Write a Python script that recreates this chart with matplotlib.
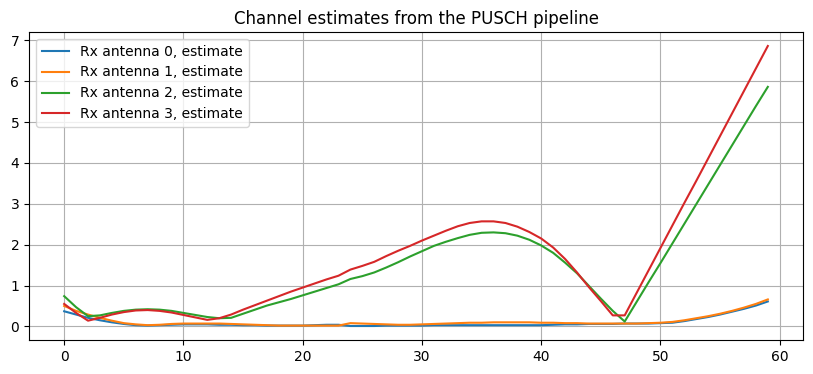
import matplotlib
matplotlib.use("Agg")
import matplotlib.pyplot as plt

# Channel estimate magnitudes per subcarrier index
subcarriers = list(range(60))

ant0 = [0.37, 0.29, 0.21, 0.15, 0.10, 0.06, 0.03, 0.02, 0.03, 0.04,
        0.05, 0.05, 0.05, 0.04, 0.04, 0.03, 0.03, 0.02, 0.02, 0.02,
        0.02, 0.03, 0.04, 0.04, 0.01, 0.01, 0.01, 0.02, 0.02, 0.02,
        0.02, 0.03, 0.03, 0.03, 0.03, 0.03, 0.03, 0.03, 0.03, 0.03,
        0.03, 0.04, 0.05, 0.05, 0.06, 0.06, 0.06, 0.07, 0.07, 0.07,
        0.08, 0.09, 0.13, 0.18, 0.23, 0.29, 0.36, 0.43, 0.51, 0.61]

ant1 = [0.50, 0.38, 0.29, 0.21, 0.14, 0.08, 0.05, 0.03, 0.04, 0.06,
        0.07, 0.07, 0.07, 0.07, 0.06, 0.05, 0.04, 0.03, 0.02, 0.02,
        0.02, 0.02, 0.02, 0.02, 0.08, 0.07, 0.06, 0.05, 0.04, 0.04,
        0.05, 0.06, 0.07, 0.08, 0.09, 0.09, 0.10, 0.10, 0.10, 0.10,
        0.09, 0.09, 0.08, 0.08, 0.07, 0.07, 0.07, 0.07, 0.07, 0.08,
        0.09, 0.11, 0.15, 0.20, 0.25, 0.31, 0.38, 0.46, 0.55, 0.66]

ant2 = [0.74, 0.47, 0.25, 0.27, 0.33, 0.38, 0.41, 0.42, 0.41, 0.38,
        0.33, 0.28, 0.23, 0.20, 0.21, 0.31, 0.41, 0.51, 0.59, 0.67,
        0.76, 0.85, 0.94, 1.03, 1.16, 1.23, 1.32, 1.44, 1.57, 1.71,
        1.84, 1.97, 2.07, 2.16, 2.24, 2.29, 2.30, 2.28, 2.22, 2.12,
        1.98, 1.80, 1.56, 1.30, 0.99, 0.68, 0.38, 0.12, 0.60, 1.08,
        1.55, 2.03, 2.51, 2.99, 3.47, 3.95, 4.43, 4.91, 5.39, 5.86]

ant3 = [0.55, 0.33, 0.14, 0.21, 0.29, 0.35, 0.39, 0.40, 0.38, 0.34,
        0.28, 0.22, 0.16, 0.20, 0.29, 0.41, 0.52, 0.63, 0.74, 0.85,
        0.95, 1.05, 1.15, 1.24, 1.39, 1.48, 1.58, 1.72, 1.85, 1.97,
        2.10, 2.22, 2.34, 2.45, 2.53, 2.57, 2.57, 2.53, 2.44, 2.31,
        2.15, 1.93, 1.65, 1.32, 0.96, 0.62, 0.27, 0.27, 0.82, 1.37,
        1.92, 2.47, 3.02, 3.56, 4.11, 4.66, 5.21, 5.76, 6.31, 6.86]

estimates = [ant0, ant1, ant2, ant3]

fig = plt.figure(figsize=(8.13, 3.74), dpi=100)
ax = fig.add_axes([29 / 813, 1 - 340 / 374, 774 / 813, 308 / 374])

for i, est in enumerate(estimates):
    ax.plot(subcarriers, est, label="Rx antenna %d, estimate" % i)

ax.set_title("Channel estimates from the PUSCH pipeline")
ax.grid(True)
ax.legend(loc="upper left")

fig.savefig("out.png", dpi=100)
